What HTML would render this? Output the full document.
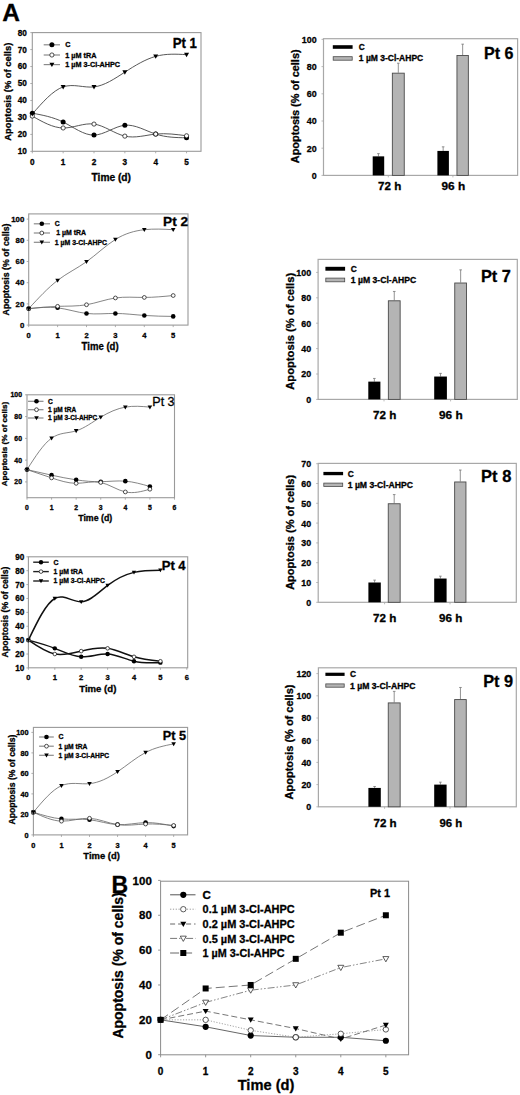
<!DOCTYPE html>
<html><head><meta charset="utf-8"><title>Figure</title>
<style>
html,body{margin:0;padding:0;background:#fff;}
body{width:520px;height:1095px;overflow:hidden;}
svg{display:block;font-family:"Liberation Sans",sans-serif;}
text{stroke:#000;stroke-width:0.3px;}
</style></head>
<body>
<svg width="520" height="1095" viewBox="0 0 520 1095">
<rect x="0" y="0" width="520" height="1095" fill="#fff"/>
<text x="2.3" y="21.3" font-size="24.5" text-anchor="start" font-weight="bold" fill="#000">A</text>
<rect x="32.3" y="32.6" width="168.7" height="118.7" fill="none" stroke="#9a9a9a" stroke-width="1.1"/>
<line x1="30.3" y1="32.6" x2="32.3" y2="32.6" stroke="#9a9a9a" stroke-width="0.8"/>
<text x="26.8" y="35.54" font-size="8.2" text-anchor="end" font-weight="bold" fill="#000">80</text>
<line x1="30.3" y1="49.57" x2="32.3" y2="49.57" stroke="#9a9a9a" stroke-width="0.8"/>
<text x="26.8" y="52.51" font-size="8.2" text-anchor="end" font-weight="bold" fill="#000">70</text>
<line x1="30.3" y1="66.54" x2="32.3" y2="66.54" stroke="#9a9a9a" stroke-width="0.8"/>
<text x="26.8" y="69.48" font-size="8.2" text-anchor="end" font-weight="bold" fill="#000">60</text>
<line x1="30.3" y1="83.51" x2="32.3" y2="83.51" stroke="#9a9a9a" stroke-width="0.8"/>
<text x="26.8" y="86.45" font-size="8.2" text-anchor="end" font-weight="bold" fill="#000">50</text>
<line x1="30.3" y1="100.48" x2="32.3" y2="100.48" stroke="#9a9a9a" stroke-width="0.8"/>
<text x="26.8" y="103.42" font-size="8.2" text-anchor="end" font-weight="bold" fill="#000">40</text>
<line x1="30.3" y1="117.45" x2="32.3" y2="117.45" stroke="#9a9a9a" stroke-width="0.8"/>
<text x="26.8" y="120.39" font-size="8.2" text-anchor="end" font-weight="bold" fill="#000">30</text>
<line x1="30.3" y1="134.42" x2="32.3" y2="134.42" stroke="#9a9a9a" stroke-width="0.8"/>
<text x="26.8" y="137.36" font-size="8.2" text-anchor="end" font-weight="bold" fill="#000">20</text>
<line x1="30.3" y1="151.39" x2="32.3" y2="151.39" stroke="#9a9a9a" stroke-width="0.8"/>
<text x="26.8" y="154.33" font-size="8.2" text-anchor="end" font-weight="bold" fill="#000">10</text>
<line x1="32.3" y1="151.3" x2="32.3" y2="153.3" stroke="#9a9a9a" stroke-width="0.8"/>
<text x="32.3" y="165.14" font-size="8.2" text-anchor="middle" font-weight="bold" fill="#000">0</text>
<line x1="63.15" y1="151.3" x2="63.15" y2="153.3" stroke="#9a9a9a" stroke-width="0.8"/>
<text x="63.15" y="165.14" font-size="8.2" text-anchor="middle" font-weight="bold" fill="#000">1</text>
<line x1="94" y1="151.3" x2="94" y2="153.3" stroke="#9a9a9a" stroke-width="0.8"/>
<text x="94" y="165.14" font-size="8.2" text-anchor="middle" font-weight="bold" fill="#000">2</text>
<line x1="124.85" y1="151.3" x2="124.85" y2="153.3" stroke="#9a9a9a" stroke-width="0.8"/>
<text x="124.85" y="165.14" font-size="8.2" text-anchor="middle" font-weight="bold" fill="#000">3</text>
<line x1="155.7" y1="151.3" x2="155.7" y2="153.3" stroke="#9a9a9a" stroke-width="0.8"/>
<text x="155.7" y="165.14" font-size="8.2" text-anchor="middle" font-weight="bold" fill="#000">4</text>
<line x1="186.55" y1="151.3" x2="186.55" y2="153.3" stroke="#9a9a9a" stroke-width="0.8"/>
<text x="186.55" y="165.14" font-size="8.2" text-anchor="middle" font-weight="bold" fill="#000">5</text>
<text x="91.5" y="180.9" font-size="10.3" text-anchor="start" font-weight="bold" fill="#000" textLength="39.5" lengthAdjust="spacingAndGlyphs">Time (d)</text>
<text transform="translate(9 91.7) rotate(-90)" x="0" y="2.44" font-size="9.4" text-anchor="middle" font-weight="bold" fill="#000">Apoptosis (% of cells)</text>
<text x="172.7" y="48.4" font-size="14.2" text-anchor="start" font-weight="bold" fill="#000" textLength="24.2" lengthAdjust="spacingAndGlyphs">Pt 1</text>
<path d="M32.3 114.06 C42.58 102.26 52.87 90.46 63.15 86.9 C73.43 83.35 83.72 88.05 94 86.9 C104.28 85.76 114.57 78.78 124.85 72.14 C135.13 65.5 145.42 59.21 155.7 56.36 C165.98 53.5 176.27 54.08 186.55 54.66" fill="none" stroke="#444" stroke-width="0.9"/>
<path d="M32.3 113.21 C42.58 115.09 52.87 116.98 63.15 122.03 C73.43 127.08 83.72 135.29 94 135.1 C104.28 134.9 114.57 126.3 124.85 125.26 C135.13 124.21 145.42 130.73 155.7 134.08 C165.98 137.43 176.27 137.62 186.55 137.81" fill="none" stroke="#444" stroke-width="0.9"/>
<path d="M32.3 116.09 C42.58 121.94 52.87 127.79 63.15 127.97 C73.43 128.16 83.72 122.68 94 124.07 C104.28 125.45 114.57 133.7 124.85 136.12 C135.13 138.53 145.42 135.11 155.7 134.08 C165.98 133.05 176.27 134.41 186.55 135.78" fill="none" stroke="#444" stroke-width="0.9"/>
<circle cx="32.3" cy="113.21" r="2.5" fill="#000"/>
<circle cx="63.15" cy="122.03" r="2.5" fill="#000"/>
<circle cx="94" cy="135.1" r="2.5" fill="#000"/>
<circle cx="124.85" cy="125.26" r="2.5" fill="#000"/>
<circle cx="155.7" cy="134.08" r="2.5" fill="#000"/>
<circle cx="186.55" cy="137.81" r="2.5" fill="#000"/>
<circle cx="32.3" cy="116.09" r="2.1" fill="#fff" stroke="#222" stroke-width="0.8"/>
<circle cx="63.15" cy="127.97" r="2.1" fill="#fff" stroke="#222" stroke-width="0.8"/>
<circle cx="94" cy="124.07" r="2.1" fill="#fff" stroke="#222" stroke-width="0.8"/>
<circle cx="124.85" cy="136.12" r="2.1" fill="#fff" stroke="#222" stroke-width="0.8"/>
<circle cx="155.7" cy="134.08" r="2.1" fill="#fff" stroke="#222" stroke-width="0.8"/>
<circle cx="186.55" cy="135.78" r="2.1" fill="#fff" stroke="#222" stroke-width="0.8"/>
<path d="M29.8 112.18 L34.8 112.18 L32.3 116.56 Z" fill="#000"/>
<path d="M60.65 85.03 L65.65 85.03 L63.15 89.4 Z" fill="#000"/>
<path d="M91.5 85.03 L96.5 85.03 L94 89.4 Z" fill="#000"/>
<path d="M122.35 70.27 L127.35 70.27 L124.85 74.64 Z" fill="#000"/>
<path d="M153.2 54.48 L158.2 54.48 L155.7 58.86 Z" fill="#000"/>
<path d="M184.05 52.79 L189.05 52.79 L186.55 57.16 Z" fill="#000"/>
<line x1="43.7" y1="44.8" x2="60" y2="44.8" stroke="#8a8a8a" stroke-width="1.2"/>
<circle cx="51.9" cy="44.8" r="2.5" fill="#000"/>
<text x="65.3" y="47.38" font-size="7.2" text-anchor="start" font-weight="bold" fill="#000">C</text>
<line x1="43.7" y1="55" x2="60" y2="55" stroke="#8a8a8a" stroke-width="1.2"/>
<circle cx="51.9" cy="55" r="2.1" fill="#fff" stroke="#222" stroke-width="0.8"/>
<text x="65.3" y="57.58" font-size="7.2" text-anchor="start" font-weight="bold" fill="#000" textLength="31.18" lengthAdjust="spacingAndGlyphs">1 &#181;M tRA</text>
<line x1="43.7" y1="64.6" x2="60" y2="64.6" stroke="#8a8a8a" stroke-width="1.2"/>
<path d="M49.4 62.72 L54.4 62.72 L51.9 67.1 Z" fill="#000"/>
<text x="65.3" y="67.18" font-size="7.2" text-anchor="start" font-weight="bold" fill="#000" textLength="54.8" lengthAdjust="spacingAndGlyphs">1 &#181;M 3-Cl-AHPC</text>
<rect x="28.7" y="213.9" width="159.3" height="111.2" fill="none" stroke="#9a9a9a" stroke-width="1.1"/>
<line x1="26.7" y1="219.1" x2="28.7" y2="219.1" stroke="#9a9a9a" stroke-width="0.8"/>
<text x="24.3" y="221.89" font-size="7.8" text-anchor="end" font-weight="bold" fill="#000">100</text>
<line x1="26.7" y1="240.3" x2="28.7" y2="240.3" stroke="#9a9a9a" stroke-width="0.8"/>
<text x="24.3" y="243.09" font-size="7.8" text-anchor="end" font-weight="bold" fill="#000">80</text>
<line x1="26.7" y1="261.5" x2="28.7" y2="261.5" stroke="#9a9a9a" stroke-width="0.8"/>
<text x="24.3" y="264.29" font-size="7.8" text-anchor="end" font-weight="bold" fill="#000">60</text>
<line x1="26.7" y1="282.7" x2="28.7" y2="282.7" stroke="#9a9a9a" stroke-width="0.8"/>
<text x="24.3" y="285.49" font-size="7.8" text-anchor="end" font-weight="bold" fill="#000">40</text>
<line x1="26.7" y1="303.9" x2="28.7" y2="303.9" stroke="#9a9a9a" stroke-width="0.8"/>
<text x="24.3" y="306.69" font-size="7.8" text-anchor="end" font-weight="bold" fill="#000">20</text>
<line x1="26.7" y1="325.1" x2="28.7" y2="325.1" stroke="#9a9a9a" stroke-width="0.8"/>
<text x="24.3" y="327.89" font-size="7.8" text-anchor="end" font-weight="bold" fill="#000">0</text>
<line x1="28.7" y1="325.1" x2="28.7" y2="327.1" stroke="#9a9a9a" stroke-width="0.8"/>
<text x="28.7" y="338.12" font-size="7.6" text-anchor="middle" font-weight="bold" fill="#000">0</text>
<line x1="57.6" y1="325.1" x2="57.6" y2="327.1" stroke="#9a9a9a" stroke-width="0.8"/>
<text x="57.6" y="338.12" font-size="7.6" text-anchor="middle" font-weight="bold" fill="#000">1</text>
<line x1="86.5" y1="325.1" x2="86.5" y2="327.1" stroke="#9a9a9a" stroke-width="0.8"/>
<text x="86.5" y="338.12" font-size="7.6" text-anchor="middle" font-weight="bold" fill="#000">2</text>
<line x1="115.4" y1="325.1" x2="115.4" y2="327.1" stroke="#9a9a9a" stroke-width="0.8"/>
<text x="115.4" y="338.12" font-size="7.6" text-anchor="middle" font-weight="bold" fill="#000">3</text>
<line x1="144.3" y1="325.1" x2="144.3" y2="327.1" stroke="#9a9a9a" stroke-width="0.8"/>
<text x="144.3" y="338.12" font-size="7.6" text-anchor="middle" font-weight="bold" fill="#000">4</text>
<line x1="173.2" y1="325.1" x2="173.2" y2="327.1" stroke="#9a9a9a" stroke-width="0.8"/>
<text x="173.2" y="338.12" font-size="7.6" text-anchor="middle" font-weight="bold" fill="#000">5</text>
<text x="81.6" y="349.6" font-size="10" text-anchor="start" font-weight="bold" fill="#000" textLength="37" lengthAdjust="spacingAndGlyphs">Time (d)</text>
<text transform="translate(6.5 269.5) rotate(-90)" x="0" y="2.29" font-size="8.8" text-anchor="middle" font-weight="bold" fill="#000">Apoptosis (% of cells)</text>
<text x="163.1" y="225.8" font-size="13" text-anchor="start" font-weight="bold" fill="#000" textLength="25" lengthAdjust="spacingAndGlyphs">Pt 2</text>
<path d="M28.7 308.67 C38.33 298.22 47.97 287.78 57.6 280.37 C67.23 272.96 76.87 268.58 86.5 261.71 C96.13 254.84 105.77 245.47 115.4 239.45 C125.03 233.43 134.67 230.77 144.3 229.7 C153.93 228.63 163.57 229.17 173.2 229.7" fill="none" stroke="#666" stroke-width="0.8"/>
<path d="M28.7 308.67 C38.33 307.66 47.97 306.65 57.6 306.34 C67.23 306.03 76.87 306.41 86.5 304.75 C96.13 303.08 105.77 299.37 115.4 297.96 C125.03 296.56 134.67 297.46 144.3 297.43 C153.93 297.41 163.57 296.47 173.2 295.53" fill="none" stroke="#666" stroke-width="0.8"/>
<path d="M28.7 308.67 C38.33 307.66 47.97 306.65 57.6 307.82 C67.23 308.99 76.87 312.34 86.5 313.44 C96.13 314.54 105.77 313.39 115.4 313.44 C125.03 313.49 134.67 314.76 144.3 315.45 C153.93 316.15 163.57 316.28 173.2 316.41" fill="none" stroke="#666" stroke-width="0.8"/>
<circle cx="28.7" cy="308.67" r="2.3" fill="#000"/>
<circle cx="57.6" cy="307.82" r="2.3" fill="#000"/>
<circle cx="86.5" cy="313.44" r="2.3" fill="#000"/>
<circle cx="115.4" cy="313.44" r="2.3" fill="#000"/>
<circle cx="144.3" cy="315.45" r="2.3" fill="#000"/>
<circle cx="173.2" cy="316.41" r="2.3" fill="#000"/>
<circle cx="28.7" cy="308.67" r="1.9" fill="#fff" stroke="#222" stroke-width="0.8"/>
<circle cx="57.6" cy="306.34" r="1.9" fill="#fff" stroke="#222" stroke-width="0.8"/>
<circle cx="86.5" cy="304.75" r="1.9" fill="#fff" stroke="#222" stroke-width="0.8"/>
<circle cx="115.4" cy="297.96" r="1.9" fill="#fff" stroke="#222" stroke-width="0.8"/>
<circle cx="144.3" cy="297.43" r="1.9" fill="#fff" stroke="#222" stroke-width="0.8"/>
<circle cx="173.2" cy="295.53" r="1.9" fill="#fff" stroke="#222" stroke-width="0.8"/>
<path d="M26.4 306.94 L31 306.94 L28.7 310.97 Z" fill="#000"/>
<path d="M55.3 278.64 L59.9 278.64 L57.6 282.67 Z" fill="#000"/>
<path d="M84.2 259.99 L88.8 259.99 L86.5 264.01 Z" fill="#000"/>
<path d="M113.1 237.73 L117.7 237.73 L115.4 241.75 Z" fill="#000"/>
<path d="M142 227.98 L146.6 227.98 L144.3 232 Z" fill="#000"/>
<path d="M170.9 227.98 L175.5 227.98 L173.2 232 Z" fill="#000"/>
<line x1="33.8" y1="223.8" x2="50" y2="223.8" stroke="#8a8a8a" stroke-width="1.2"/>
<circle cx="41.8" cy="223.8" r="2.3" fill="#000"/>
<text x="54.8" y="226.23" font-size="6.8" text-anchor="start" font-weight="bold" fill="#000">C</text>
<line x1="33.8" y1="233" x2="50" y2="233" stroke="#8a8a8a" stroke-width="1.2"/>
<circle cx="41.8" cy="233" r="1.9" fill="#fff" stroke="#222" stroke-width="0.8"/>
<text x="56.3" y="235.43" font-size="6.8" text-anchor="start" font-weight="bold" fill="#000" textLength="29.7" lengthAdjust="spacingAndGlyphs">1 &#181;M tRA</text>
<line x1="33.8" y1="242.3" x2="50" y2="242.3" stroke="#8a8a8a" stroke-width="1.2"/>
<path d="M39.5 240.58 L44.1 240.58 L41.8 244.6 Z" fill="#000"/>
<text x="54.8" y="244.73" font-size="6.8" text-anchor="start" font-weight="bold" fill="#000" textLength="52.2" lengthAdjust="spacingAndGlyphs">1 &#181;M 3-Cl-AHPC</text>
<rect x="27" y="394.8" width="147.5" height="102.9" fill="none" stroke="#9a9a9a" stroke-width="1.1"/>
<line x1="25" y1="394.8" x2="27" y2="394.8" stroke="#9a9a9a" stroke-width="0.8"/>
<text x="22" y="397.27" font-size="6.9" text-anchor="end" font-weight="bold" fill="#000">100</text>
<line x1="25" y1="416.58" x2="27" y2="416.58" stroke="#9a9a9a" stroke-width="0.8"/>
<text x="22" y="419.05" font-size="6.9" text-anchor="end" font-weight="bold" fill="#000">80</text>
<line x1="25" y1="438.36" x2="27" y2="438.36" stroke="#9a9a9a" stroke-width="0.8"/>
<text x="22" y="440.83" font-size="6.9" text-anchor="end" font-weight="bold" fill="#000">60</text>
<line x1="25" y1="460.14" x2="27" y2="460.14" stroke="#9a9a9a" stroke-width="0.8"/>
<text x="22" y="462.61" font-size="6.9" text-anchor="end" font-weight="bold" fill="#000">40</text>
<line x1="25" y1="481.92" x2="27" y2="481.92" stroke="#9a9a9a" stroke-width="0.8"/>
<text x="22" y="484.39" font-size="6.9" text-anchor="end" font-weight="bold" fill="#000">20</text>
<line x1="27" y1="497.7" x2="27" y2="499.7" stroke="#9a9a9a" stroke-width="0.8"/>
<text x="27" y="509.83" font-size="6.8" text-anchor="middle" font-weight="bold" fill="#000">0</text>
<line x1="51.58" y1="497.7" x2="51.58" y2="499.7" stroke="#9a9a9a" stroke-width="0.8"/>
<text x="51.58" y="509.83" font-size="6.8" text-anchor="middle" font-weight="bold" fill="#000">1</text>
<line x1="76.16" y1="497.7" x2="76.16" y2="499.7" stroke="#9a9a9a" stroke-width="0.8"/>
<text x="76.16" y="509.83" font-size="6.8" text-anchor="middle" font-weight="bold" fill="#000">2</text>
<line x1="100.74" y1="497.7" x2="100.74" y2="499.7" stroke="#9a9a9a" stroke-width="0.8"/>
<text x="100.74" y="509.83" font-size="6.8" text-anchor="middle" font-weight="bold" fill="#000">3</text>
<line x1="125.32" y1="497.7" x2="125.32" y2="499.7" stroke="#9a9a9a" stroke-width="0.8"/>
<text x="125.32" y="509.83" font-size="6.8" text-anchor="middle" font-weight="bold" fill="#000">4</text>
<line x1="149.9" y1="497.7" x2="149.9" y2="499.7" stroke="#9a9a9a" stroke-width="0.8"/>
<text x="149.9" y="509.83" font-size="6.8" text-anchor="middle" font-weight="bold" fill="#000">5</text>
<line x1="174.48" y1="497.7" x2="174.48" y2="499.7" stroke="#9a9a9a" stroke-width="0.8"/>
<text x="174.48" y="509.83" font-size="6.8" text-anchor="middle" font-weight="bold" fill="#000">6</text>
<text x="78.2" y="520.7" font-size="9" text-anchor="start" font-weight="bold" fill="#000" textLength="34.1" lengthAdjust="spacingAndGlyphs">Time (d)</text>
<text transform="translate(4.8 444) rotate(-90)" x="0" y="2.11" font-size="8.1" text-anchor="middle" font-weight="bold" fill="#000">Apoptosis (% of cells)</text>
<text x="152.3" y="406.1" font-size="12.7" text-anchor="start" font-weight="normal" fill="#000" textLength="22.3" lengthAdjust="spacingAndGlyphs">Pt 3</text>
<path d="M27 469.61 C35.19 456.8 43.39 443.99 51.58 438.14 C59.77 432.29 67.97 433.4 76.16 430.85 C84.35 428.29 92.55 422.06 100.74 417.12 C108.93 412.19 117.13 408.56 125.32 407.11 C133.51 405.65 141.71 406.38 149.9 407.11" fill="none" stroke="#666" stroke-width="0.8"/>
<path d="M27 469.61 C35.19 471.5 43.39 473.39 51.58 475.17 C59.77 476.95 67.97 478.63 76.16 479.85 C84.35 481.07 92.55 481.84 100.74 481.7 C108.93 481.56 117.13 480.51 125.32 481.16 C133.51 481.8 141.71 484.15 149.9 486.49" fill="none" stroke="#666" stroke-width="0.8"/>
<path d="M27 469.61 C35.19 472.39 43.39 475.16 51.58 477.89 C59.77 480.62 67.97 483.29 76.16 483.34 C84.35 483.38 92.55 480.78 100.74 482.46 C108.93 484.15 117.13 490.1 125.32 491.94 C133.51 493.78 141.71 491.5 149.9 489.22" fill="none" stroke="#666" stroke-width="0.8"/>
<circle cx="27" cy="469.61" r="2.3" fill="#000"/>
<circle cx="51.58" cy="475.17" r="2.3" fill="#000"/>
<circle cx="76.16" cy="479.85" r="2.3" fill="#000"/>
<circle cx="100.74" cy="481.7" r="2.3" fill="#000"/>
<circle cx="125.32" cy="481.16" r="2.3" fill="#000"/>
<circle cx="149.9" cy="486.49" r="2.3" fill="#000"/>
<circle cx="27" cy="469.61" r="1.9" fill="#fff" stroke="#222" stroke-width="0.8"/>
<circle cx="51.58" cy="477.89" r="1.9" fill="#fff" stroke="#222" stroke-width="0.8"/>
<circle cx="76.16" cy="483.34" r="1.9" fill="#fff" stroke="#222" stroke-width="0.8"/>
<circle cx="100.74" cy="482.46" r="1.9" fill="#fff" stroke="#222" stroke-width="0.8"/>
<circle cx="125.32" cy="491.94" r="1.9" fill="#fff" stroke="#222" stroke-width="0.8"/>
<circle cx="149.9" cy="489.22" r="1.9" fill="#fff" stroke="#222" stroke-width="0.8"/>
<path d="M24.7 467.89 L29.3 467.89 L27 471.91 Z" fill="#000"/>
<path d="M49.28 436.42 L53.88 436.42 L51.58 440.44 Z" fill="#000"/>
<path d="M73.86 429.12 L78.46 429.12 L76.16 433.15 Z" fill="#000"/>
<path d="M98.44 415.4 L103.04 415.4 L100.74 419.42 Z" fill="#000"/>
<path d="M123.02 405.38 L127.62 405.38 L125.32 409.41 Z" fill="#000"/>
<path d="M147.6 405.38 L152.2 405.38 L149.9 409.41 Z" fill="#000"/>
<line x1="28" y1="401.3" x2="43.5" y2="401.3" stroke="#8a8a8a" stroke-width="1.2"/>
<circle cx="36.5" cy="401.3" r="2.3" fill="#000"/>
<text x="48.1" y="403.66" font-size="6.6" text-anchor="start" font-weight="bold" fill="#000">C</text>
<line x1="28" y1="409.7" x2="43.5" y2="409.7" stroke="#8a8a8a" stroke-width="1.2"/>
<circle cx="36.5" cy="409.7" r="1.9" fill="#fff" stroke="#222" stroke-width="0.8"/>
<text x="48.1" y="412.06" font-size="6.6" text-anchor="start" font-weight="bold" fill="#000" textLength="27.99" lengthAdjust="spacingAndGlyphs">1 &#181;M tRA</text>
<line x1="28" y1="418" x2="43.5" y2="418" stroke="#8a8a8a" stroke-width="1.2"/>
<path d="M34.2 416.27 L38.8 416.27 L36.5 420.3 Z" fill="#000"/>
<text x="48.1" y="420.36" font-size="6.6" text-anchor="start" font-weight="bold" fill="#000" textLength="49.2" lengthAdjust="spacingAndGlyphs">1 &#181;M 3-Cl-AHPC</text>
<rect x="28.4" y="556.8" width="159.3" height="111" fill="none" stroke="#9a9a9a" stroke-width="1.1"/>
<line x1="26.4" y1="556.8" x2="28.4" y2="556.8" stroke="#9a9a9a" stroke-width="0.8"/>
<text x="24.3" y="559.74" font-size="8.2" text-anchor="end" font-weight="bold" fill="#000">90</text>
<line x1="26.4" y1="570.69" x2="28.4" y2="570.69" stroke="#9a9a9a" stroke-width="0.8"/>
<text x="24.3" y="573.63" font-size="8.2" text-anchor="end" font-weight="bold" fill="#000">80</text>
<line x1="26.4" y1="584.58" x2="28.4" y2="584.58" stroke="#9a9a9a" stroke-width="0.8"/>
<text x="24.3" y="587.52" font-size="8.2" text-anchor="end" font-weight="bold" fill="#000">70</text>
<line x1="26.4" y1="598.47" x2="28.4" y2="598.47" stroke="#9a9a9a" stroke-width="0.8"/>
<text x="24.3" y="601.41" font-size="8.2" text-anchor="end" font-weight="bold" fill="#000">60</text>
<line x1="26.4" y1="612.36" x2="28.4" y2="612.36" stroke="#9a9a9a" stroke-width="0.8"/>
<text x="24.3" y="615.3" font-size="8.2" text-anchor="end" font-weight="bold" fill="#000">50</text>
<line x1="26.4" y1="626.25" x2="28.4" y2="626.25" stroke="#9a9a9a" stroke-width="0.8"/>
<text x="24.3" y="629.19" font-size="8.2" text-anchor="end" font-weight="bold" fill="#000">40</text>
<line x1="26.4" y1="640.14" x2="28.4" y2="640.14" stroke="#9a9a9a" stroke-width="0.8"/>
<text x="24.3" y="643.08" font-size="8.2" text-anchor="end" font-weight="bold" fill="#000">30</text>
<line x1="26.4" y1="654.03" x2="28.4" y2="654.03" stroke="#9a9a9a" stroke-width="0.8"/>
<text x="24.3" y="656.97" font-size="8.2" text-anchor="end" font-weight="bold" fill="#000">20</text>
<line x1="26.4" y1="667.92" x2="28.4" y2="667.92" stroke="#9a9a9a" stroke-width="0.8"/>
<text x="24.3" y="670.86" font-size="8.2" text-anchor="end" font-weight="bold" fill="#000">10</text>
<line x1="28.4" y1="667.8" x2="28.4" y2="669.8" stroke="#9a9a9a" stroke-width="0.8"/>
<text x="28.4" y="680.32" font-size="7.6" text-anchor="middle" font-weight="bold" fill="#000">0</text>
<line x1="54.8" y1="667.8" x2="54.8" y2="669.8" stroke="#9a9a9a" stroke-width="0.8"/>
<text x="54.8" y="680.32" font-size="7.6" text-anchor="middle" font-weight="bold" fill="#000">1</text>
<line x1="81.2" y1="667.8" x2="81.2" y2="669.8" stroke="#9a9a9a" stroke-width="0.8"/>
<text x="81.2" y="680.32" font-size="7.6" text-anchor="middle" font-weight="bold" fill="#000">2</text>
<line x1="107.6" y1="667.8" x2="107.6" y2="669.8" stroke="#9a9a9a" stroke-width="0.8"/>
<text x="107.6" y="680.32" font-size="7.6" text-anchor="middle" font-weight="bold" fill="#000">3</text>
<line x1="134" y1="667.8" x2="134" y2="669.8" stroke="#9a9a9a" stroke-width="0.8"/>
<text x="134" y="680.32" font-size="7.6" text-anchor="middle" font-weight="bold" fill="#000">4</text>
<line x1="160.4" y1="667.8" x2="160.4" y2="669.8" stroke="#9a9a9a" stroke-width="0.8"/>
<text x="160.4" y="680.32" font-size="7.6" text-anchor="middle" font-weight="bold" fill="#000">5</text>
<line x1="186.8" y1="667.8" x2="186.8" y2="669.8" stroke="#9a9a9a" stroke-width="0.8"/>
<text x="186.8" y="680.32" font-size="7.6" text-anchor="middle" font-weight="bold" fill="#000">6</text>
<text x="79.2" y="691.6" font-size="9.4" text-anchor="start" font-weight="bold" fill="#000" textLength="37.2" lengthAdjust="spacingAndGlyphs">Time (d)</text>
<text transform="translate(5.9 612) rotate(-90)" x="0" y="2.26" font-size="8.7" text-anchor="middle" font-weight="bold" fill="#000">Apoptosis (% of cells)</text>
<text x="161.7" y="569.5" font-size="13.2" text-anchor="start" font-weight="bold" fill="#000" textLength="23.9" lengthAdjust="spacingAndGlyphs">Pt 4</text>
<path d="M28.4 640.14 C37.2 621.75 46 603.37 54.8 598.47 C63.6 593.57 72.4 602.16 81.2 601.8 C90 601.45 98.8 592.16 107.6 585.41 C116.4 578.67 125.2 574.48 134 572.36 C142.8 570.24 151.6 570.18 160.4 570.13" fill="none" stroke="#111" stroke-width="1.5"/>
<path d="M28.4 640.14 C37.2 646.2 46 652.25 54.8 654.03 C63.6 655.81 72.4 653.31 81.2 651.11 C90 648.92 98.8 647.03 107.6 648.34 C116.4 649.64 125.2 654.12 134 656.81 C142.8 659.49 151.6 660.37 160.4 661.25" fill="none" stroke="#111" stroke-width="1.5"/>
<path d="M28.4 640.14 C37.2 642.5 46 644.87 54.8 648.34 C63.6 651.8 72.4 656.37 81.2 656.81 C90 657.25 98.8 653.56 107.6 654.03 C116.4 654.5 125.2 659.12 134 661.25 C142.8 663.38 151.6 663.01 160.4 662.64" fill="none" stroke="#111" stroke-width="1.5"/>
<circle cx="28.4" cy="640.14" r="2.2" fill="#000"/>
<circle cx="54.8" cy="648.34" r="2.2" fill="#000"/>
<circle cx="81.2" cy="656.81" r="2.2" fill="#000"/>
<circle cx="107.6" cy="654.03" r="2.2" fill="#000"/>
<circle cx="134" cy="661.25" r="2.2" fill="#000"/>
<circle cx="160.4" cy="662.64" r="2.2" fill="#000"/>
<circle cx="28.4" cy="640.14" r="1.8" fill="#fff" stroke="#222" stroke-width="0.8"/>
<circle cx="54.8" cy="654.03" r="1.8" fill="#fff" stroke="#222" stroke-width="0.8"/>
<circle cx="81.2" cy="651.11" r="1.8" fill="#fff" stroke="#222" stroke-width="0.8"/>
<circle cx="107.6" cy="648.34" r="1.8" fill="#fff" stroke="#222" stroke-width="0.8"/>
<circle cx="134" cy="656.81" r="1.8" fill="#fff" stroke="#222" stroke-width="0.8"/>
<circle cx="160.4" cy="661.25" r="1.8" fill="#fff" stroke="#222" stroke-width="0.8"/>
<path d="M26.2 638.49 L30.6 638.49 L28.4 642.34 Z" fill="#000"/>
<path d="M52.6 596.82 L57 596.82 L54.8 600.67 Z" fill="#000"/>
<path d="M79 600.15 L83.4 600.15 L81.2 604 Z" fill="#000"/>
<path d="M105.4 583.76 L109.8 583.76 L107.6 587.61 Z" fill="#000"/>
<path d="M131.8 570.71 L136.2 570.71 L134 574.56 Z" fill="#000"/>
<path d="M158.2 568.48 L162.6 568.48 L160.4 572.33 Z" fill="#000"/>
<line x1="33.2" y1="562.2" x2="48.8" y2="562.2" stroke="#222" stroke-width="1.4"/>
<circle cx="41" cy="562.2" r="2.2" fill="#000"/>
<text x="53.6" y="564.67" font-size="6.9" text-anchor="start" font-weight="bold" fill="#000">C</text>
<line x1="33.2" y1="571.6" x2="48.8" y2="571.6" stroke="#222" stroke-width="1.4"/>
<circle cx="41" cy="571.6" r="1.8" fill="#fff" stroke="#222" stroke-width="0.8"/>
<text x="53.6" y="574.07" font-size="6.9" text-anchor="start" font-weight="bold" fill="#000" textLength="29.25" lengthAdjust="spacingAndGlyphs">1 &#181;M tRA</text>
<line x1="33.2" y1="581" x2="48.8" y2="581" stroke="#222" stroke-width="1.4"/>
<path d="M38.8 579.35 L43.2 579.35 L41 583.2 Z" fill="#000"/>
<text x="53.6" y="583.47" font-size="6.9" text-anchor="start" font-weight="bold" fill="#000" textLength="51.4" lengthAdjust="spacingAndGlyphs">1 &#181;M 3-Cl-AHPC</text>
<rect x="33.4" y="727.4" width="154.2" height="107.5" fill="none" stroke="#9a9a9a" stroke-width="1.1"/>
<line x1="31.4" y1="732.4" x2="33.4" y2="732.4" stroke="#9a9a9a" stroke-width="0.8"/>
<text x="28.5" y="735.01" font-size="7.3" text-anchor="end" font-weight="bold" fill="#000">100</text>
<line x1="31.4" y1="752.9" x2="33.4" y2="752.9" stroke="#9a9a9a" stroke-width="0.8"/>
<text x="28.5" y="755.51" font-size="7.3" text-anchor="end" font-weight="bold" fill="#000">80</text>
<line x1="31.4" y1="773.4" x2="33.4" y2="773.4" stroke="#9a9a9a" stroke-width="0.8"/>
<text x="28.5" y="776.01" font-size="7.3" text-anchor="end" font-weight="bold" fill="#000">60</text>
<line x1="31.4" y1="793.9" x2="33.4" y2="793.9" stroke="#9a9a9a" stroke-width="0.8"/>
<text x="28.5" y="796.51" font-size="7.3" text-anchor="end" font-weight="bold" fill="#000">40</text>
<line x1="31.4" y1="814.4" x2="33.4" y2="814.4" stroke="#9a9a9a" stroke-width="0.8"/>
<text x="28.5" y="817.01" font-size="7.3" text-anchor="end" font-weight="bold" fill="#000">20</text>
<line x1="31.4" y1="834.9" x2="33.4" y2="834.9" stroke="#9a9a9a" stroke-width="0.8"/>
<text x="28.5" y="837.51" font-size="7.3" text-anchor="end" font-weight="bold" fill="#000">0</text>
<line x1="33.4" y1="834.9" x2="33.4" y2="836.9" stroke="#9a9a9a" stroke-width="0.8"/>
<text x="33.4" y="848.05" font-size="7.4" text-anchor="middle" font-weight="bold" fill="#000">0</text>
<line x1="61.45" y1="834.9" x2="61.45" y2="836.9" stroke="#9a9a9a" stroke-width="0.8"/>
<text x="61.45" y="848.05" font-size="7.4" text-anchor="middle" font-weight="bold" fill="#000">1</text>
<line x1="89.5" y1="834.9" x2="89.5" y2="836.9" stroke="#9a9a9a" stroke-width="0.8"/>
<text x="89.5" y="848.05" font-size="7.4" text-anchor="middle" font-weight="bold" fill="#000">2</text>
<line x1="117.55" y1="834.9" x2="117.55" y2="836.9" stroke="#9a9a9a" stroke-width="0.8"/>
<text x="117.55" y="848.05" font-size="7.4" text-anchor="middle" font-weight="bold" fill="#000">3</text>
<line x1="145.6" y1="834.9" x2="145.6" y2="836.9" stroke="#9a9a9a" stroke-width="0.8"/>
<text x="145.6" y="848.05" font-size="7.4" text-anchor="middle" font-weight="bold" fill="#000">4</text>
<line x1="173.65" y1="834.9" x2="173.65" y2="836.9" stroke="#9a9a9a" stroke-width="0.8"/>
<text x="173.65" y="848.05" font-size="7.4" text-anchor="middle" font-weight="bold" fill="#000">5</text>
<text x="83.3" y="858.7" font-size="9.1" text-anchor="start" font-weight="bold" fill="#000" textLength="36.5" lengthAdjust="spacingAndGlyphs">Time (d)</text>
<text transform="translate(12.5 779.6) rotate(-90)" x="0" y="2.24" font-size="8.6" text-anchor="middle" font-weight="bold" fill="#000">Apoptosis (% of cells)</text>
<text x="162.7" y="740.1" font-size="12.7" text-anchor="start" font-weight="bold" fill="#000" textLength="23.3" lengthAdjust="spacingAndGlyphs">Pt 5</text>
<path d="M33.4 812.25 C42.75 801.04 52.1 789.83 61.45 785.7 C70.8 781.57 80.15 784.52 89.5 783.65 C98.85 782.78 108.2 778.1 117.55 771.76 C126.9 765.42 136.25 757.41 145.6 752.49 C154.95 747.57 164.3 745.72 173.65 743.88" fill="none" stroke="#666" stroke-width="0.8"/>
<path d="M33.4 812.25 C42.75 815.14 52.1 818.04 61.45 818.91 C70.8 819.78 80.15 818.64 89.5 819.73 C98.85 820.82 108.2 824.15 117.55 824.65 C126.9 825.15 136.25 822.83 145.6 822.6 C154.95 822.37 164.3 824.23 173.65 826.08" fill="none" stroke="#666" stroke-width="0.8"/>
<path d="M33.4 812.25 C42.75 816.54 52.1 820.83 61.45 821.16 C70.8 821.5 80.15 817.86 89.5 818.29 C98.85 818.73 108.2 823.23 117.55 824.65 C126.9 826.07 136.25 824.41 145.6 824.03 C154.95 823.66 164.3 824.56 173.65 825.47" fill="none" stroke="#666" stroke-width="0.8"/>
<circle cx="33.4" cy="812.25" r="2.3" fill="#000"/>
<circle cx="61.45" cy="818.91" r="2.3" fill="#000"/>
<circle cx="89.5" cy="819.73" r="2.3" fill="#000"/>
<circle cx="117.55" cy="824.65" r="2.3" fill="#000"/>
<circle cx="145.6" cy="822.6" r="2.3" fill="#000"/>
<circle cx="173.65" cy="826.08" r="2.3" fill="#000"/>
<circle cx="33.4" cy="812.25" r="1.9" fill="#fff" stroke="#222" stroke-width="0.8"/>
<circle cx="61.45" cy="821.16" r="1.9" fill="#fff" stroke="#222" stroke-width="0.8"/>
<circle cx="89.5" cy="818.29" r="1.9" fill="#fff" stroke="#222" stroke-width="0.8"/>
<circle cx="117.55" cy="824.65" r="1.9" fill="#fff" stroke="#222" stroke-width="0.8"/>
<circle cx="145.6" cy="824.03" r="1.9" fill="#fff" stroke="#222" stroke-width="0.8"/>
<circle cx="173.65" cy="825.47" r="1.9" fill="#fff" stroke="#222" stroke-width="0.8"/>
<path d="M31.1 810.52 L35.7 810.52 L33.4 814.55 Z" fill="#000"/>
<path d="M59.15 783.97 L63.75 783.97 L61.45 788 Z" fill="#000"/>
<path d="M87.2 781.92 L91.8 781.92 L89.5 785.95 Z" fill="#000"/>
<path d="M115.25 770.03 L119.85 770.03 L117.55 774.06 Z" fill="#000"/>
<path d="M143.3 750.76 L147.9 750.76 L145.6 754.79 Z" fill="#000"/>
<path d="M171.35 742.15 L175.95 742.15 L173.65 746.18 Z" fill="#000"/>
<line x1="39.1" y1="737" x2="53.8" y2="737" stroke="#8a8a8a" stroke-width="1.2"/>
<circle cx="46.5" cy="737" r="2.3" fill="#000"/>
<text x="58.6" y="739.47" font-size="6.9" text-anchor="start" font-weight="bold" fill="#000">C</text>
<line x1="39.1" y1="746.2" x2="53.8" y2="746.2" stroke="#8a8a8a" stroke-width="1.2"/>
<circle cx="46.5" cy="746.2" r="1.9" fill="#fff" stroke="#222" stroke-width="0.8"/>
<text x="58.6" y="748.67" font-size="6.9" text-anchor="start" font-weight="bold" fill="#000" textLength="28.79" lengthAdjust="spacingAndGlyphs">1 &#181;M tRA</text>
<line x1="39.1" y1="755.3" x2="53.8" y2="755.3" stroke="#8a8a8a" stroke-width="1.2"/>
<path d="M44.2 753.57 L48.8 753.57 L46.5 757.6 Z" fill="#000"/>
<text x="58.6" y="757.77" font-size="6.9" text-anchor="start" font-weight="bold" fill="#000" textLength="50.6" lengthAdjust="spacingAndGlyphs">1 &#181;M 3-Cl-AHPC</text>
<rect x="323.5" y="38.7" width="194.1" height="136.7" fill="none" stroke="#a8a8a8" stroke-width="1.2"/>
<line x1="321.5" y1="39.4" x2="323.5" y2="39.4" stroke="#a8a8a8" stroke-width="0.8"/>
<text x="301.75" y="42.87" font-size="9.7" text-anchor="start" font-weight="bold" fill="#000" textLength="14.85" lengthAdjust="spacingAndGlyphs">100</text>
<line x1="321.5" y1="66.6" x2="323.5" y2="66.6" stroke="#a8a8a8" stroke-width="0.8"/>
<text x="306.7" y="70.07" font-size="9.7" text-anchor="start" font-weight="bold" fill="#000" textLength="9.9" lengthAdjust="spacingAndGlyphs">80</text>
<line x1="321.5" y1="93.8" x2="323.5" y2="93.8" stroke="#a8a8a8" stroke-width="0.8"/>
<text x="306.7" y="97.27" font-size="9.7" text-anchor="start" font-weight="bold" fill="#000" textLength="9.9" lengthAdjust="spacingAndGlyphs">60</text>
<line x1="321.5" y1="121" x2="323.5" y2="121" stroke="#a8a8a8" stroke-width="0.8"/>
<text x="306.7" y="124.47" font-size="9.7" text-anchor="start" font-weight="bold" fill="#000" textLength="9.9" lengthAdjust="spacingAndGlyphs">40</text>
<line x1="321.5" y1="148.2" x2="323.5" y2="148.2" stroke="#a8a8a8" stroke-width="0.8"/>
<text x="306.7" y="151.67" font-size="9.7" text-anchor="start" font-weight="bold" fill="#000" textLength="9.9" lengthAdjust="spacingAndGlyphs">20</text>
<line x1="321.5" y1="175.4" x2="323.5" y2="175.4" stroke="#a8a8a8" stroke-width="0.8"/>
<text x="311.65" y="178.87" font-size="9.7" text-anchor="start" font-weight="bold" fill="#000" textLength="4.95" lengthAdjust="spacingAndGlyphs">0</text>
<line x1="388.3" y1="175.4" x2="388.3" y2="177.4" stroke="#a8a8a8" stroke-width="0.8"/>
<line x1="452.9" y1="175.4" x2="452.9" y2="177.4" stroke="#a8a8a8" stroke-width="0.8"/>
<text x="378.1" y="190" font-size="11" text-anchor="start" font-weight="bold" fill="#000" textLength="23.2" lengthAdjust="spacingAndGlyphs">72 h</text>
<text x="441.5" y="190" font-size="11" text-anchor="start" font-weight="bold" fill="#000" textLength="23.7" lengthAdjust="spacingAndGlyphs">96 h</text>
<text transform="translate(296.2 106.3) rotate(-90)" x="0" y="2.83" font-size="10.9" text-anchor="middle" font-weight="bold" fill="#000">Apoptosis (% of cells)</text>
<text x="484.1" y="59.2" font-size="16.4" text-anchor="start" font-weight="bold" fill="#000" textLength="29.4" lengthAdjust="spacingAndGlyphs">Pt 6</text>
<line x1="378.45" y1="153.64" x2="378.45" y2="156.36" stroke="#777" stroke-width="0.8"/>
<line x1="377.15" y1="153.64" x2="379.75" y2="153.64" stroke="#777" stroke-width="0.8"/>
<rect x="372.7" y="156.36" width="11.5" height="19.04" fill="#000" stroke="none" stroke-width="1"/>
<line x1="398.3" y1="63.2" x2="398.3" y2="72.72" stroke="#777" stroke-width="0.8"/>
<line x1="397" y1="63.2" x2="399.6" y2="63.2" stroke="#777" stroke-width="0.8"/>
<rect x="392.35" y="73.17" width="11.9" height="102.23" fill="#b4b4b4" stroke="#4a4a4a" stroke-width="0.9"/>
<line x1="443.15" y1="146.84" x2="443.15" y2="150.92" stroke="#777" stroke-width="0.8"/>
<line x1="441.85" y1="146.84" x2="444.45" y2="146.84" stroke="#777" stroke-width="0.8"/>
<rect x="437.4" y="150.92" width="11.5" height="24.48" fill="#000" stroke="none" stroke-width="1"/>
<line x1="462.65" y1="44.16" x2="462.65" y2="55.04" stroke="#777" stroke-width="0.8"/>
<line x1="461.35" y1="44.16" x2="463.95" y2="44.16" stroke="#777" stroke-width="0.8"/>
<rect x="456.95" y="55.49" width="11.4" height="119.91" fill="#b4b4b4" stroke="#4a4a4a" stroke-width="0.9"/>
<rect x="332.8" y="45.2" width="19.8" height="3.6" fill="#000" stroke="none" stroke-width="1"/>
<rect x="333.2" y="56.7" width="19" height="3.5" fill="#b4b4b4" stroke="#4a4a4a" stroke-width="0.8"/>
<text x="358.8" y="49.97" font-size="8.3" text-anchor="start" font-weight="bold" fill="#000">C</text>
<text x="358.8" y="61.42" font-size="8.3" text-anchor="start" font-weight="bold" fill="#000" textLength="64.4" lengthAdjust="spacingAndGlyphs">1 &#181;M 3-Cl-AHPC</text>
<rect x="318.1" y="259.4" width="199.2" height="140" fill="none" stroke="#a8a8a8" stroke-width="1.2"/>
<line x1="316.1" y1="272.4" x2="318.1" y2="272.4" stroke="#a8a8a8" stroke-width="0.8"/>
<text x="296.35" y="275.87" font-size="9.7" text-anchor="start" font-weight="bold" fill="#000" textLength="14.85" lengthAdjust="spacingAndGlyphs">100</text>
<line x1="316.1" y1="297.8" x2="318.1" y2="297.8" stroke="#a8a8a8" stroke-width="0.8"/>
<text x="301.3" y="301.27" font-size="9.7" text-anchor="start" font-weight="bold" fill="#000" textLength="9.9" lengthAdjust="spacingAndGlyphs">80</text>
<line x1="316.1" y1="323.2" x2="318.1" y2="323.2" stroke="#a8a8a8" stroke-width="0.8"/>
<text x="301.3" y="326.67" font-size="9.7" text-anchor="start" font-weight="bold" fill="#000" textLength="9.9" lengthAdjust="spacingAndGlyphs">60</text>
<line x1="316.1" y1="348.6" x2="318.1" y2="348.6" stroke="#a8a8a8" stroke-width="0.8"/>
<text x="301.3" y="352.07" font-size="9.7" text-anchor="start" font-weight="bold" fill="#000" textLength="9.9" lengthAdjust="spacingAndGlyphs">40</text>
<line x1="316.1" y1="374" x2="318.1" y2="374" stroke="#a8a8a8" stroke-width="0.8"/>
<text x="301.3" y="377.47" font-size="9.7" text-anchor="start" font-weight="bold" fill="#000" textLength="9.9" lengthAdjust="spacingAndGlyphs">20</text>
<line x1="316.1" y1="399.4" x2="318.1" y2="399.4" stroke="#a8a8a8" stroke-width="0.8"/>
<text x="306.25" y="402.87" font-size="9.7" text-anchor="start" font-weight="bold" fill="#000" textLength="4.95" lengthAdjust="spacingAndGlyphs">0</text>
<line x1="384" y1="399.4" x2="384" y2="401.4" stroke="#a8a8a8" stroke-width="0.8"/>
<line x1="450.6" y1="399.4" x2="450.6" y2="401.4" stroke="#a8a8a8" stroke-width="0.8"/>
<text x="373" y="418.9" font-size="11" text-anchor="start" font-weight="bold" fill="#000" textLength="23.3" lengthAdjust="spacingAndGlyphs">72 h</text>
<text x="439" y="418.9" font-size="11" text-anchor="start" font-weight="bold" fill="#000" textLength="23.7" lengthAdjust="spacingAndGlyphs">96 h</text>
<text transform="translate(291.2 331.3) rotate(-90)" x="0" y="2.91" font-size="11.2" text-anchor="middle" font-weight="bold" fill="#000">Apoptosis (% of cells)</text>
<text x="480.9" y="281.5" font-size="16.6" text-anchor="start" font-weight="bold" fill="#000" textLength="30" lengthAdjust="spacingAndGlyphs">Pt 7</text>
<line x1="374.35" y1="378.44" x2="374.35" y2="381.62" stroke="#777" stroke-width="0.8"/>
<line x1="373.05" y1="378.44" x2="375.65" y2="378.44" stroke="#777" stroke-width="0.8"/>
<rect x="368.3" y="381.62" width="12.1" height="17.78" fill="#000" stroke="none" stroke-width="1"/>
<line x1="394.25" y1="291.45" x2="394.25" y2="300.34" stroke="#777" stroke-width="0.8"/>
<line x1="392.95" y1="291.45" x2="395.55" y2="291.45" stroke="#777" stroke-width="0.8"/>
<rect x="388.35" y="300.79" width="11.8" height="98.61" fill="#b4b4b4" stroke="#4a4a4a" stroke-width="0.9"/>
<line x1="440.55" y1="373.36" x2="440.55" y2="376.54" stroke="#777" stroke-width="0.8"/>
<line x1="439.25" y1="373.36" x2="441.85" y2="373.36" stroke="#777" stroke-width="0.8"/>
<rect x="434.2" y="376.54" width="12.7" height="22.86" fill="#000" stroke="none" stroke-width="1"/>
<line x1="460.65" y1="269.86" x2="460.65" y2="282.56" stroke="#777" stroke-width="0.8"/>
<line x1="459.35" y1="269.86" x2="461.95" y2="269.86" stroke="#777" stroke-width="0.8"/>
<rect x="454.75" y="283.01" width="11.8" height="116.39" fill="#b4b4b4" stroke="#4a4a4a" stroke-width="0.9"/>
<rect x="325.4" y="266.8" width="19.7" height="3.9" fill="#000" stroke="none" stroke-width="1"/>
<rect x="325.8" y="278.1" width="18.9" height="3.7" fill="#b4b4b4" stroke="#4a4a4a" stroke-width="0.8"/>
<text x="350.8" y="271.76" font-size="8.4" text-anchor="start" font-weight="bold" fill="#000">C</text>
<text x="350.8" y="282.96" font-size="8.4" text-anchor="start" font-weight="bold" fill="#000" textLength="65.4" lengthAdjust="spacingAndGlyphs">1 &#181;M 3-Cl-AHPC</text>
<rect x="318.2" y="463.4" width="198.1" height="138.9" fill="none" stroke="#a8a8a8" stroke-width="1.2"/>
<line x1="316.2" y1="463.7" x2="318.2" y2="463.7" stroke="#a8a8a8" stroke-width="0.8"/>
<text x="301.3" y="467.17" font-size="9.7" text-anchor="start" font-weight="bold" fill="#000" textLength="9.9" lengthAdjust="spacingAndGlyphs">70</text>
<line x1="316.2" y1="483.5" x2="318.2" y2="483.5" stroke="#a8a8a8" stroke-width="0.8"/>
<text x="301.3" y="486.97" font-size="9.7" text-anchor="start" font-weight="bold" fill="#000" textLength="9.9" lengthAdjust="spacingAndGlyphs">60</text>
<line x1="316.2" y1="503.3" x2="318.2" y2="503.3" stroke="#a8a8a8" stroke-width="0.8"/>
<text x="301.3" y="506.77" font-size="9.7" text-anchor="start" font-weight="bold" fill="#000" textLength="9.9" lengthAdjust="spacingAndGlyphs">50</text>
<line x1="316.2" y1="523.1" x2="318.2" y2="523.1" stroke="#a8a8a8" stroke-width="0.8"/>
<text x="301.3" y="526.57" font-size="9.7" text-anchor="start" font-weight="bold" fill="#000" textLength="9.9" lengthAdjust="spacingAndGlyphs">40</text>
<line x1="316.2" y1="542.9" x2="318.2" y2="542.9" stroke="#a8a8a8" stroke-width="0.8"/>
<text x="301.3" y="546.37" font-size="9.7" text-anchor="start" font-weight="bold" fill="#000" textLength="9.9" lengthAdjust="spacingAndGlyphs">30</text>
<line x1="316.2" y1="562.7" x2="318.2" y2="562.7" stroke="#a8a8a8" stroke-width="0.8"/>
<text x="301.3" y="566.17" font-size="9.7" text-anchor="start" font-weight="bold" fill="#000" textLength="9.9" lengthAdjust="spacingAndGlyphs">20</text>
<line x1="316.2" y1="582.5" x2="318.2" y2="582.5" stroke="#a8a8a8" stroke-width="0.8"/>
<text x="301.3" y="585.97" font-size="9.7" text-anchor="start" font-weight="bold" fill="#000" textLength="9.9" lengthAdjust="spacingAndGlyphs">10</text>
<line x1="316.2" y1="602.3" x2="318.2" y2="602.3" stroke="#a8a8a8" stroke-width="0.8"/>
<text x="306.25" y="605.77" font-size="9.7" text-anchor="start" font-weight="bold" fill="#000" textLength="4.95" lengthAdjust="spacingAndGlyphs">0</text>
<line x1="384.6" y1="602.3" x2="384.6" y2="604.3" stroke="#a8a8a8" stroke-width="0.8"/>
<line x1="450" y1="602.3" x2="450" y2="604.3" stroke="#a8a8a8" stroke-width="0.8"/>
<text x="373" y="621.9" font-size="11" text-anchor="start" font-weight="bold" fill="#000" textLength="23.3" lengthAdjust="spacingAndGlyphs">72 h</text>
<text x="439" y="621.9" font-size="11" text-anchor="start" font-weight="bold" fill="#000" textLength="23.3" lengthAdjust="spacingAndGlyphs">96 h</text>
<text transform="translate(291.2 532.4) rotate(-90)" x="0" y="2.86" font-size="11" text-anchor="middle" font-weight="bold" fill="#000">Apoptosis (% of cells)</text>
<text x="481.1" y="481.5" font-size="16.6" text-anchor="start" font-weight="bold" fill="#000" textLength="30.2" lengthAdjust="spacingAndGlyphs">Pt 8</text>
<line x1="374.6" y1="580.12" x2="374.6" y2="582.5" stroke="#777" stroke-width="0.8"/>
<line x1="373.3" y1="580.12" x2="375.9" y2="580.12" stroke="#777" stroke-width="0.8"/>
<rect x="368.4" y="582.5" width="12.4" height="19.8" fill="#000" stroke="none" stroke-width="1"/>
<line x1="394.2" y1="494.59" x2="394.2" y2="503.3" stroke="#777" stroke-width="0.8"/>
<line x1="392.9" y1="494.59" x2="395.5" y2="494.59" stroke="#777" stroke-width="0.8"/>
<rect x="388.25" y="503.75" width="11.9" height="98.55" fill="#b4b4b4" stroke="#4a4a4a" stroke-width="0.9"/>
<line x1="440.4" y1="576.16" x2="440.4" y2="578.54" stroke="#777" stroke-width="0.8"/>
<line x1="439.1" y1="576.16" x2="441.7" y2="576.16" stroke="#777" stroke-width="0.8"/>
<rect x="434.2" y="578.54" width="12.4" height="23.76" fill="#000" stroke="none" stroke-width="1"/>
<line x1="460.3" y1="470.04" x2="460.3" y2="481.52" stroke="#777" stroke-width="0.8"/>
<line x1="459" y1="470.04" x2="461.6" y2="470.04" stroke="#777" stroke-width="0.8"/>
<rect x="454.65" y="481.97" width="11.3" height="120.33" fill="#b4b4b4" stroke="#4a4a4a" stroke-width="0.9"/>
<rect x="323.4" y="471.9" width="19.7" height="3.3" fill="#000" stroke="none" stroke-width="1"/>
<rect x="323.8" y="483.1" width="18.9" height="3.3" fill="#b4b4b4" stroke="#4a4a4a" stroke-width="0.8"/>
<text x="347.7" y="476.56" font-size="8.4" text-anchor="start" font-weight="bold" fill="#000">C</text>
<text x="347.7" y="487.76" font-size="8.4" text-anchor="start" font-weight="bold" fill="#000" textLength="65.4" lengthAdjust="spacingAndGlyphs">1 &#181;M 3-Cl-AHPC</text>
<rect x="318.4" y="667.8" width="197.9" height="139" fill="none" stroke="#a8a8a8" stroke-width="1.2"/>
<line x1="316.4" y1="673.6" x2="318.4" y2="673.6" stroke="#a8a8a8" stroke-width="0.8"/>
<text x="296.45" y="677.07" font-size="9.7" text-anchor="start" font-weight="bold" fill="#000" textLength="14.85" lengthAdjust="spacingAndGlyphs">120</text>
<line x1="316.4" y1="695.8" x2="318.4" y2="695.8" stroke="#a8a8a8" stroke-width="0.8"/>
<text x="296.45" y="699.27" font-size="9.7" text-anchor="start" font-weight="bold" fill="#000" textLength="14.85" lengthAdjust="spacingAndGlyphs">100</text>
<line x1="316.4" y1="718" x2="318.4" y2="718" stroke="#a8a8a8" stroke-width="0.8"/>
<text x="301.4" y="721.47" font-size="9.7" text-anchor="start" font-weight="bold" fill="#000" textLength="9.9" lengthAdjust="spacingAndGlyphs">80</text>
<line x1="316.4" y1="740.2" x2="318.4" y2="740.2" stroke="#a8a8a8" stroke-width="0.8"/>
<text x="301.4" y="743.67" font-size="9.7" text-anchor="start" font-weight="bold" fill="#000" textLength="9.9" lengthAdjust="spacingAndGlyphs">60</text>
<line x1="316.4" y1="762.4" x2="318.4" y2="762.4" stroke="#a8a8a8" stroke-width="0.8"/>
<text x="301.4" y="765.87" font-size="9.7" text-anchor="start" font-weight="bold" fill="#000" textLength="9.9" lengthAdjust="spacingAndGlyphs">40</text>
<line x1="316.4" y1="784.6" x2="318.4" y2="784.6" stroke="#a8a8a8" stroke-width="0.8"/>
<text x="301.4" y="788.07" font-size="9.7" text-anchor="start" font-weight="bold" fill="#000" textLength="9.9" lengthAdjust="spacingAndGlyphs">20</text>
<line x1="316.4" y1="806.8" x2="318.4" y2="806.8" stroke="#a8a8a8" stroke-width="0.8"/>
<text x="306.35" y="810.27" font-size="9.7" text-anchor="start" font-weight="bold" fill="#000" textLength="4.95" lengthAdjust="spacingAndGlyphs">0</text>
<line x1="384.6" y1="806.8" x2="384.6" y2="808.8" stroke="#a8a8a8" stroke-width="0.8"/>
<line x1="450" y1="806.8" x2="450" y2="808.8" stroke="#a8a8a8" stroke-width="0.8"/>
<text x="373.5" y="826.9" font-size="11" text-anchor="start" font-weight="bold" fill="#000" textLength="23.2" lengthAdjust="spacingAndGlyphs">72 h</text>
<text x="439.5" y="826.9" font-size="11" text-anchor="start" font-weight="bold" fill="#000" textLength="22.8" lengthAdjust="spacingAndGlyphs">96 h</text>
<text transform="translate(290.4 742) rotate(-90)" x="0" y="2.86" font-size="11" text-anchor="middle" font-weight="bold" fill="#000">Apoptosis (% of cells)</text>
<text x="483.2" y="687.3" font-size="16.6" text-anchor="start" font-weight="bold" fill="#000" textLength="29.9" lengthAdjust="spacingAndGlyphs">Pt 9</text>
<line x1="374.6" y1="786.49" x2="374.6" y2="787.93" stroke="#777" stroke-width="0.8"/>
<line x1="373.3" y1="786.49" x2="375.9" y2="786.49" stroke="#777" stroke-width="0.8"/>
<rect x="368.4" y="787.93" width="12.4" height="18.87" fill="#000" stroke="none" stroke-width="1"/>
<line x1="394.2" y1="691.36" x2="394.2" y2="702.46" stroke="#777" stroke-width="0.8"/>
<line x1="392.9" y1="691.36" x2="395.5" y2="691.36" stroke="#777" stroke-width="0.8"/>
<rect x="388.25" y="702.91" width="11.9" height="103.89" fill="#b4b4b4" stroke="#4a4a4a" stroke-width="0.9"/>
<line x1="440.4" y1="782.16" x2="440.4" y2="784.6" stroke="#777" stroke-width="0.8"/>
<line x1="439.1" y1="782.16" x2="441.7" y2="782.16" stroke="#777" stroke-width="0.8"/>
<rect x="434.2" y="784.6" width="12.4" height="22.2" fill="#000" stroke="none" stroke-width="1"/>
<line x1="460.45" y1="687.47" x2="460.45" y2="699.13" stroke="#777" stroke-width="0.8"/>
<line x1="459.15" y1="687.47" x2="461.75" y2="687.47" stroke="#777" stroke-width="0.8"/>
<rect x="454.65" y="699.58" width="11.6" height="107.22" fill="#b4b4b4" stroke="#4a4a4a" stroke-width="0.9"/>
<rect x="325.4" y="672.7" width="19.2" height="3.2" fill="#000" stroke="none" stroke-width="1"/>
<rect x="325.8" y="683.9" width="18.4" height="3.3" fill="#b4b4b4" stroke="#4a4a4a" stroke-width="0.8"/>
<text x="350" y="677.31" font-size="8.4" text-anchor="start" font-weight="bold" fill="#000">C</text>
<text x="350" y="688.56" font-size="8.4" text-anchor="start" font-weight="bold" fill="#000" textLength="65.4" lengthAdjust="spacingAndGlyphs">1 &#181;M 3-Cl-AHPC</text>
<rect x="160.6" y="881.2" width="248" height="173.6" fill="none" stroke="#8a8a8a" stroke-width="1"/>
<line x1="158.1" y1="880.4" x2="160.6" y2="880.4" stroke="#8a8a8a" stroke-width="0.9"/>
<text x="151.8" y="884.52" font-size="11.5" text-anchor="end" font-weight="bold" fill="#000">100</text>
<line x1="158.1" y1="915.26" x2="160.6" y2="915.26" stroke="#8a8a8a" stroke-width="0.9"/>
<text x="151.8" y="919.38" font-size="11.5" text-anchor="end" font-weight="bold" fill="#000">80</text>
<line x1="158.1" y1="950.12" x2="160.6" y2="950.12" stroke="#8a8a8a" stroke-width="0.9"/>
<text x="151.8" y="954.24" font-size="11.5" text-anchor="end" font-weight="bold" fill="#000">60</text>
<line x1="158.1" y1="984.98" x2="160.6" y2="984.98" stroke="#8a8a8a" stroke-width="0.9"/>
<text x="151.8" y="989.1" font-size="11.5" text-anchor="end" font-weight="bold" fill="#000">40</text>
<line x1="158.1" y1="1019.84" x2="160.6" y2="1019.84" stroke="#8a8a8a" stroke-width="0.9"/>
<text x="151.8" y="1023.96" font-size="11.5" text-anchor="end" font-weight="bold" fill="#000">20</text>
<line x1="158.1" y1="1054.7" x2="160.6" y2="1054.7" stroke="#8a8a8a" stroke-width="0.9"/>
<text x="151.8" y="1058.82" font-size="11.5" text-anchor="end" font-weight="bold" fill="#000">0</text>
<line x1="160.6" y1="1054.8" x2="160.6" y2="1057.3" stroke="#8a8a8a" stroke-width="0.9"/>
<text x="160.6" y="1075.08" font-size="10" text-anchor="middle" font-weight="bold" fill="#000">0</text>
<line x1="205.65" y1="1054.8" x2="205.65" y2="1057.3" stroke="#8a8a8a" stroke-width="0.9"/>
<text x="205.65" y="1075.08" font-size="10" text-anchor="middle" font-weight="bold" fill="#000">1</text>
<line x1="250.7" y1="1054.8" x2="250.7" y2="1057.3" stroke="#8a8a8a" stroke-width="0.9"/>
<text x="250.7" y="1075.08" font-size="10" text-anchor="middle" font-weight="bold" fill="#000">2</text>
<line x1="295.75" y1="1054.8" x2="295.75" y2="1057.3" stroke="#8a8a8a" stroke-width="0.9"/>
<text x="295.75" y="1075.08" font-size="10" text-anchor="middle" font-weight="bold" fill="#000">3</text>
<line x1="340.8" y1="1054.8" x2="340.8" y2="1057.3" stroke="#8a8a8a" stroke-width="0.9"/>
<text x="340.8" y="1075.08" font-size="10" text-anchor="middle" font-weight="bold" fill="#000">4</text>
<line x1="385.85" y1="1054.8" x2="385.85" y2="1057.3" stroke="#8a8a8a" stroke-width="0.9"/>
<text x="385.85" y="1075.08" font-size="10" text-anchor="middle" font-weight="bold" fill="#000">5</text>
<text x="237.7" y="1090.4" font-size="14.5" text-anchor="start" font-weight="bold" fill="#000" textLength="56.7" lengthAdjust="spacingAndGlyphs">Time (d)</text>
<text transform="translate(119.2 965.5) rotate(-90)" x="0" y="3.64" font-size="14" text-anchor="middle" font-weight="bold" fill="#000">Apoptosis (% of cells)</text>
<text x="370" y="896.9" font-size="11.7" text-anchor="start" font-weight="bold" fill="#000" textLength="20" lengthAdjust="spacingAndGlyphs">Pt 1</text>
<text x="111.6" y="892.5" font-size="23" text-anchor="start" font-weight="bold" fill="#000">B</text>
<path d="M160.6 1019.84 L205.65 1026.81 L250.7 1035.53 L295.75 1037.27 L340.8 1037.27 L385.85 1040.76" fill="none" stroke="#555" stroke-width="0.9"/>
<path d="M160.6 1019.84 L205.65 1019.84 L250.7 1030.3 L295.75 1037.27 L340.8 1033.78 L385.85 1029.43" fill="none" stroke="#999" stroke-width="0.9" stroke-dasharray="1.2 1.6"/>
<path d="M160.6 1019.84 L205.65 1011.12 L250.7 1019.84 L295.75 1028.56 L340.8 1039.01 L385.85 1025.07" fill="none" stroke="#666" stroke-width="0.9" stroke-dasharray="6 3"/>
<path d="M160.6 1019.84 L205.65 1002.41 L250.7 990.21 L295.75 984.98 L340.8 967.55 L385.85 958.84" fill="none" stroke="#777" stroke-width="0.9" stroke-dasharray="7 2 1.5 2 1.5 2"/>
<path d="M160.6 1019.84 L205.65 988.47 L250.7 984.98 L295.75 958.84 L340.8 932.69 L385.85 915.26" fill="none" stroke="#666" stroke-width="0.9" stroke-dasharray="9 4"/>
<circle cx="160.6" cy="1019.84" r="3.1" fill="#000"/>
<circle cx="205.65" cy="1026.81" r="3.1" fill="#000"/>
<circle cx="250.7" cy="1035.53" r="3.1" fill="#000"/>
<circle cx="295.75" cy="1037.27" r="3.1" fill="#000"/>
<circle cx="340.8" cy="1037.27" r="3.1" fill="#000"/>
<circle cx="385.85" cy="1040.76" r="3.1" fill="#000"/>
<circle cx="160.6" cy="1019.84" r="2.7" fill="#fff" stroke="#333" stroke-width="0.8"/>
<circle cx="205.65" cy="1019.84" r="2.7" fill="#fff" stroke="#333" stroke-width="0.8"/>
<circle cx="250.7" cy="1030.3" r="2.7" fill="#fff" stroke="#333" stroke-width="0.8"/>
<circle cx="295.75" cy="1037.27" r="2.7" fill="#fff" stroke="#333" stroke-width="0.8"/>
<circle cx="340.8" cy="1033.78" r="2.7" fill="#fff" stroke="#333" stroke-width="0.8"/>
<circle cx="385.85" cy="1029.43" r="2.7" fill="#fff" stroke="#333" stroke-width="0.8"/>
<path d="M157.6 1017.59 L163.6 1017.59 L160.6 1022.84 Z" fill="#000"/>
<path d="M202.65 1008.88 L208.65 1008.88 L205.65 1014.12 Z" fill="#000"/>
<path d="M247.7 1017.59 L253.7 1017.59 L250.7 1022.84 Z" fill="#000"/>
<path d="M292.75 1026.31 L298.75 1026.31 L295.75 1031.56 Z" fill="#000"/>
<path d="M337.8 1036.76 L343.8 1036.76 L340.8 1042.01 Z" fill="#000"/>
<path d="M382.85 1022.82 L388.85 1022.82 L385.85 1028.07 Z" fill="#000"/>
<path d="M157.6 1017.59 L163.6 1017.59 L160.6 1022.84 Z" fill="#fff" stroke="#333" stroke-width="0.8"/>
<path d="M202.65 1000.16 L208.65 1000.16 L205.65 1005.41 Z" fill="#fff" stroke="#333" stroke-width="0.8"/>
<path d="M247.7 987.96 L253.7 987.96 L250.7 993.21 Z" fill="#fff" stroke="#333" stroke-width="0.8"/>
<path d="M292.75 982.73 L298.75 982.73 L295.75 987.98 Z" fill="#fff" stroke="#333" stroke-width="0.8"/>
<path d="M337.8 965.3 L343.8 965.3 L340.8 970.55 Z" fill="#fff" stroke="#333" stroke-width="0.8"/>
<path d="M382.85 956.59 L388.85 956.59 L385.85 961.84 Z" fill="#fff" stroke="#333" stroke-width="0.8"/>
<rect x="157.6" y="1016.84" width="6" height="6" fill="#000"/>
<rect x="202.65" y="985.47" width="6" height="6" fill="#000"/>
<rect x="247.7" y="981.98" width="6" height="6" fill="#000"/>
<rect x="292.75" y="955.84" width="6" height="6" fill="#000"/>
<rect x="337.8" y="929.69" width="6" height="6" fill="#000"/>
<rect x="382.85" y="912.26" width="6" height="6" fill="#000"/>
<line x1="170.1" y1="894.8" x2="195.5" y2="894.8" stroke="#555" stroke-width="1"/>
<circle cx="183.3" cy="894.8" r="3.1" fill="#000"/>
<text x="202.6" y="898.95" font-size="11.6" text-anchor="start" font-weight="bold" fill="#000">C</text>
<line x1="170.1" y1="909.2" x2="195.5" y2="909.2" stroke="#999" stroke-width="1" stroke-dasharray="1.2 1.6"/>
<circle cx="183.3" cy="909.2" r="2.7" fill="#fff" stroke="#333" stroke-width="0.8"/>
<text x="202.6" y="913.35" font-size="11.6" text-anchor="start" font-weight="bold" fill="#000" textLength="92.1" lengthAdjust="spacingAndGlyphs">0.1 &#181;M 3-Cl-AHPC</text>
<line x1="170.1" y1="924" x2="195.5" y2="924" stroke="#666" stroke-width="1" stroke-dasharray="5 3"/>
<path d="M180.3 921.75 L186.3 921.75 L183.3 927 Z" fill="#000"/>
<text x="202.6" y="928.15" font-size="11.6" text-anchor="start" font-weight="bold" fill="#000" textLength="92.1" lengthAdjust="spacingAndGlyphs">0.2 &#181;M 3-Cl-AHPC</text>
<line x1="170.1" y1="938.4" x2="195.5" y2="938.4" stroke="#777" stroke-width="1" stroke-dasharray="7 2 1.5 2 1.5 2"/>
<path d="M180.3 936.15 L186.3 936.15 L183.3 941.4 Z" fill="#fff" stroke="#333" stroke-width="0.8"/>
<text x="202.6" y="942.55" font-size="11.6" text-anchor="start" font-weight="bold" fill="#000" textLength="92.1" lengthAdjust="spacingAndGlyphs">0.5 &#181;M 3-Cl-AHPC</text>
<line x1="170.1" y1="953" x2="195.5" y2="953" stroke="#666" stroke-width="1" stroke-dasharray="9 4"/>
<rect x="180.3" y="950" width="6" height="6" fill="#000"/>
<text x="202.6" y="957.15" font-size="11.6" text-anchor="start" font-weight="bold" fill="#000" textLength="81.9" lengthAdjust="spacingAndGlyphs">1 &#181;M 3-Cl-AHPC</text>
</svg>
</body></html>
